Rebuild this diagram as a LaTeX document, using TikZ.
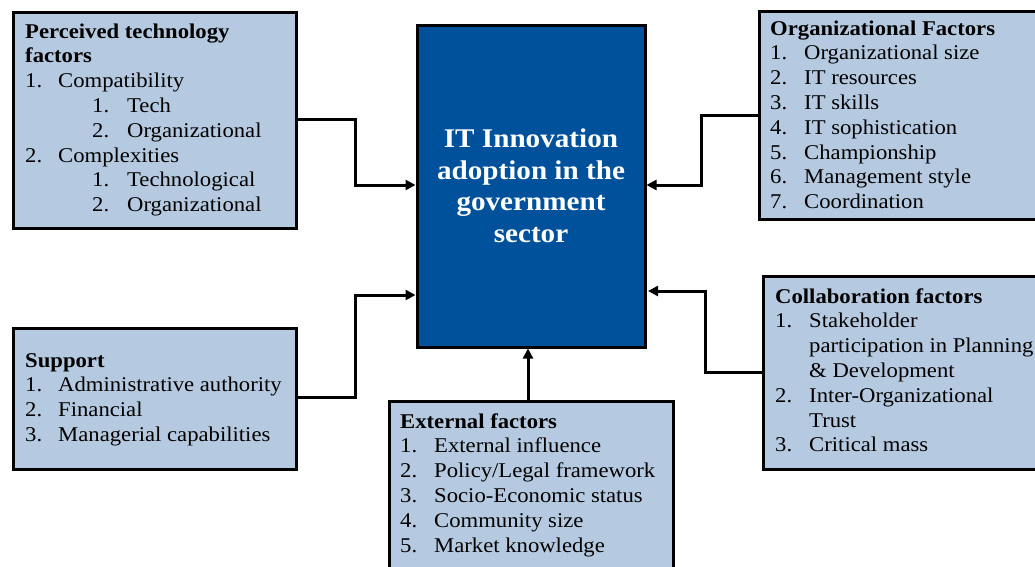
\documentclass[tikz,border=0pt]{standalone}
\usepackage{fontspec}
\setmainfont{Liberation Serif}[FakeStretch=1.08]
\usetikzlibrary{arrows.meta}
\definecolor{lightbox}{RGB}{181,202,224}
\definecolor{mainblue}{RGB}{0,81,155}
\begin{document}
\begin{tikzpicture}[x=1pt,y=-1pt,
  factorbox/.style={draw=black,line width=3pt,fill=lightbox,rectangle,inner sep=0pt,anchor=north west},
  ttl/.style={anchor=base west,inner sep=0pt,font=\fontsize{21}{24}\selectfont\bfseries},
  itm/.style={anchor=base west,inner sep=0pt,font=\fontsize{21}{24}\selectfont},
  conn/.style={line width=3pt,-{Triangle[length=10pt,width=10pt]},line join=miter}]
\useasboundingbox (0,0) rectangle (1035,566);
\clip (0,0) rectangle (1035,566);
\fill[white] (0,0) rectangle (1035,566);

% boxes
\node[factorbox,minimum width=283pt,minimum height=216pt] (pt) at (11.5,10.5) {};
\node[draw=black,line width=3pt,fill=mainblue,rectangle,inner sep=0pt,anchor=north west,
      minimum width=228pt,minimum height=322pt,text=white,align=center,
      font=\fontsize{27}{31.5}\selectfont\bfseries] (main) at (415.5,23.5)
      {IT Innovation\\adoption in the\\government\\sector};
\node[factorbox,minimum width=400pt,minimum height=208pt] (org) at (757.5,10) {};
\node[factorbox,minimum width=400pt,minimum height=193pt] (col) at (762,274.5) {};
\node[factorbox,minimum width=283pt,minimum height=141pt] (sup) at (11.5,326.5) {};
\node[factorbox,minimum width=284pt,minimum height=300pt] (ext) at (388,400) {};

% Perceived technology factors
\node[ttl] (pt0) at (25,38) {Perceived technology};
\node[ttl] (pt1) at (25,62.8) {factors};
\node[itm] (ptn1) at (25,87.6) {1.};   \node[itm] (ptt1) at (58,87.6) {Compatibility};
\node[itm] (ptn2) at (92,112.4) {1.};  \node[itm] (ptt2) at (127,112.4) {Tech};
\node[itm] (ptn3) at (92,137.2) {2.};  \node[itm] (ptt3) at (127,137.2) {Organizational};
\node[itm] (ptn4) at (25,162) {2.};    \node[itm] (ptt4) at (58,162) {Complexities};
\node[itm] (ptn5) at (92,186.8) {1.};  \node[itm] (ptt5) at (127,186.8) {Technological};
\node[itm] (ptn6) at (92,211.6) {2.};  \node[itm] (ptt6) at (127,211.6) {Organizational};

% Organizational factors
\node[ttl] (org0) at (770,35) {Organizational Factors};
\node[itm] (orgn1) at (770,59.8) {1.};  \node[itm] (orgt1) at (804,59.8) {Organizational size};
\node[itm] (orgn2) at (770,84.6) {2.};  \node[itm] (orgt2) at (804,84.6) {IT resources};
\node[itm] (orgn3) at (770,109.4) {3.}; \node[itm] (orgt3) at (804,109.4) {IT skills};
\node[itm] (orgn4) at (770,134.2) {4.}; \node[itm] (orgt4) at (804,134.2) {IT sophistication};
\node[itm] (orgn5) at (770,159) {5.};   \node[itm] (orgt5) at (804,159) {Championship};
\node[itm] (orgn6) at (770,183.8) {6.}; \node[itm] (orgt6) at (804,183.8) {Management style};
\node[itm] (orgn7) at (770,208.6) {7.}; \node[itm] (orgt7) at (804,208.6) {Coordination};

% Collaboration factors
\node[ttl] (col0) at (775,303) {Collaboration factors};
\node[itm] (coln1) at (775,327.8) {1.}; \node[itm] (colt1) at (809,327.8) {Stakeholder};
\node[itm] (colt1b) at (809,352.6) {participation in Planning};
\node[itm] (colt1c) at (809,377.4) {\& Development};
\node[itm] (coln2) at (775,402.2) {2.}; \node[itm] (colt2) at (809,402.2) {Inter-Organizational};
\node[itm] (colt2b) at (809,427) {Trust};
\node[itm] (coln3) at (775,451.8) {3.}; \node[itm] (colt3) at (809,451.8) {Critical mass};

% Support
\node[ttl] (sup0) at (25,367) {Support};
\node[itm] (supn1) at (25,391.8) {1.};  \node[itm] (supt1) at (58,391.8) {Administrative authority};
\node[itm] (supn2) at (25,416.6) {2.};  \node[itm] (supt2) at (58,416.6) {Financial};
\node[itm] (supn3) at (25,441.4) {3.};  \node[itm] (supt3) at (58,441.4) {Managerial capabilities};

% External factors
\node[ttl] (ext0) at (400,428) {External factors};
\node[itm] (extn1) at (400,452.8) {1.}; \node[itm] (extt1) at (434,452.8) {External influence};
\node[itm] (extn2) at (400,477.6) {2.}; \node[itm] (extt2) at (434,477.6) {Policy/Legal framework};
\node[itm] (extn3) at (400,502.4) {3.}; \node[itm] (extt3) at (434,502.4) {Socio-Economic status};
\node[itm] (extn4) at (400,527.2) {4.}; \node[itm] (extt4) at (434,527.2) {Community size};
\node[itm] (extn5) at (400,552) {5.};   \node[itm] (extt5) at (434,552) {Market knowledge};

% connectors
\draw[conn] (pt.east |- 0,119) -- (355,119) |- (main.west |- 0,185);
\draw[conn] (sup.east |- 0,397) -- (355,397) |- (main.west |- 0,295);
\draw[conn] (org.west |- 0,115) -- (701,115) |- (main.east |- 0,185);
\draw[conn] (col.west |- 0,372) -- (705,372) |- (648,291);
\draw[conn] (ext.north -| 528,0) -- (main.south -| 528,0);
\end{tikzpicture}
\end{document}
